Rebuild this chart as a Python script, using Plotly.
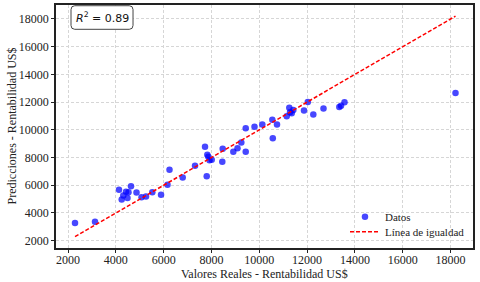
import plotly.graph_objects as go

# Data
valores_reales = [2293, 3129, 4133, 4635, 4426, 4530, 4246, 4488, 4313, 4865,
                  5074, 5262, 5526, 5890, 6161, 6245, 6797, 7312, 7730, 7801,
                  7826, 7868, 7918, 8010, 8453, 8470, 8914, 9089, 9248, 9432,
                  9432, 9800, 10126, 10545, 10741, 10565, 11147, 11255, 11356, 11423,
                  11285, 11870, 12029, 12259, 12686, 13347, 13418, 13564, 18207]
predicciones = [3276, 3369, 5676, 5928, 5532, 5495, 4977, 5077, 5265, 5481,
                5135, 5193, 5495, 5315, 6036, 7117, 6562, 7405, 8775, 6649,
                8198, 8054, 7802, 7838, 7694, 8631, 8414, 8667, 9085, 8414,
                10123, 10216, 10382, 10721, 10382, 9387, 10987, 11586, 11204, 11441,
                11261, 11391, 12004, 11103, 11535, 11643, 11730, 11996, 12667]
r2_text = "<i>R</i><sup>2</sup> = 0.89"
x_title = "Valores Reales - Rentabilidad US$"
y_title = "Predicciones - Rentabilidad US$"
x_ticks = [2000, 4000, 6000, 8000, 10000, 12000, 14000, 16000, 18000]
y_ticks = [2000, 4000, 6000, 8000, 10000, 12000, 14000, 16000, 18000]

linea_min = min(valores_reales)
linea_max = max(valores_reales)

SERIF = "Liberation Serif, Times New Roman, serif"

fig = go.Figure()
fig.add_trace(go.Scatter(
    x=valores_reales, y=predicciones, mode="markers", name="Datos",
    marker=dict(color="rgba(0,0,255,0.72)", size=6.5, line=dict(width=0)),
    legend="legend",
))
fig.add_trace(go.Scatter(
    x=[linea_min, linea_max], y=[linea_min, linea_max], mode="lines",
    name="Línea de igualdad",
    line=dict(color="red", width=1.5, dash="4px,2px"),
    legend="legend2",
))

axis_common = dict(
    showline=True, mirror=True, linecolor="#222", linewidth=1.6,
    ticks="outside", ticklen=3, tickcolor="#222", tickwidth=1,
    showgrid=True, gridcolor="#d6d6d6", gridwidth=0.8, griddash="3px,2px",
    zeroline=False, automargin=False, tickformat="d",
    tickfont=dict(family=SERIF, size=12, color="#222"),
)

fig.update_layout(
    width=480, height=282,
    margin=dict(l=56, r=7, t=5, b=34),
    paper_bgcolor="white", plot_bgcolor="white",
    xaxis=dict(range=[1498, 18938], tickvals=x_ticks, ticklabelstandoff=-3,
               **axis_common),
    yaxis=dict(range=[1474, 19009], tickvals=y_ticks, **axis_common),
    legend=dict(x=0.693, y=0.1286, xanchor="left", yanchor="middle",
                bgcolor="rgba(0,0,0,0)",
                font=dict(family=SERIF, size=11, color="#222")),
    legend2=dict(x=0.693, y=0.067, xanchor="left", yanchor="middle",
                 bgcolor="rgba(0,0,0,0)",
                 font=dict(family=SERIF, size=11, color="#222")),
    showlegend=True,
)

# axis titles
fig.add_annotation(text=x_title, xref="paper", yref="paper", x=0.5, y=0,
                   xanchor="center", yanchor="middle", yshift=-26.3,
                   showarrow=False, font=dict(family=SERIF, size=12, color="#222"))
fig.add_annotation(text=y_title, xref="paper", yref="paper", x=0, y=0.5,
                   xanchor="center", yanchor="middle", xshift=-45, textangle=-90,
                   showarrow=False, font=dict(family=SERIF, size=12, color="#222"))

# rounded box for R^2
x0, x1, y0, y1 = 0.036, 0.1847, 0.900, 0.997
rx, ry = 0.009, 0.016
path = (f"M {x0+rx},{y0} L {x1-rx},{y0} Q {x1},{y0} {x1},{y0+ry} "
        f"L {x1},{y1-ry} Q {x1},{y1} {x1-rx},{y1} L {x0+rx},{y1} "
        f"Q {x0},{y1} {x0},{y1-ry} L {x0},{y0+ry} Q {x0},{y0} {x0+rx},{y0} Z")
fig.add_shape(type="path", path=path, xref="paper", yref="paper",
              line=dict(color="#444", width=1), fillcolor="white", layer="above")
fig.add_annotation(text=r2_text, xref="paper", yref="paper",
                   x=(x0+x1)/2, y=(y0+y1)/2, xanchor="center", yanchor="middle",
                   showarrow=False,
                   font=dict(family="DejaVu Sans", size=11, color="#111"))

fig.write_html("out.html", config={"displayModeBar": False},
               post_script="document.body.style.margin='0';document.body.style.padding='0';")
